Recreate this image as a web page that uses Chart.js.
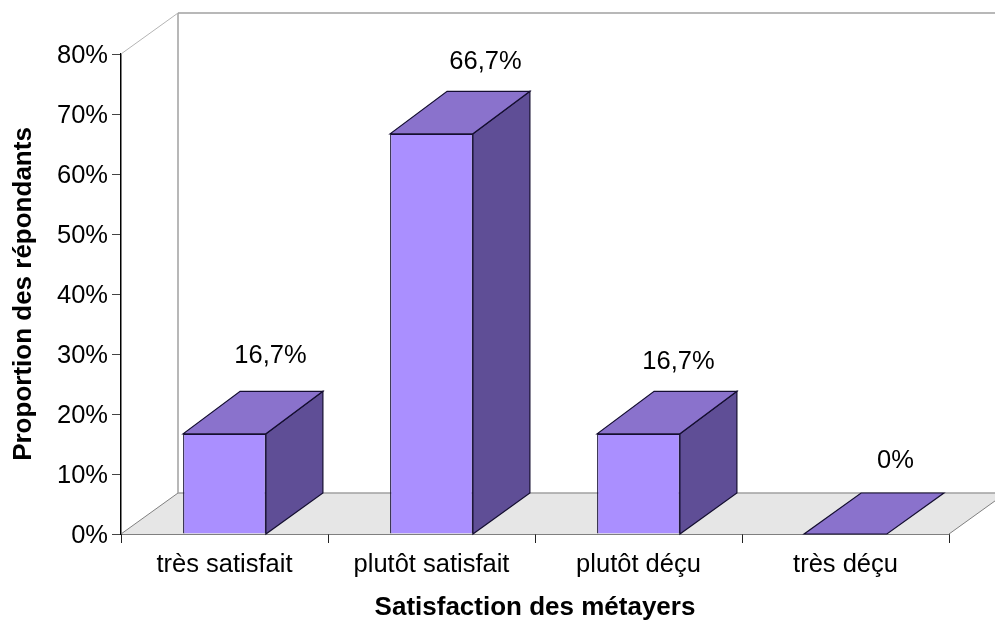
<!DOCTYPE html>
<html>
<head>
<meta charset="utf-8">
<script src="https://cdn.jsdelivr.net/npm/chart.js@4"></script>
<style>html,body{margin:0;padding:0;background:#fff}canvas{display:block}</style>
</head>
<body>
<canvas id="c" width="995" height="621"></canvas>
<script>
const categories = ['très satisfait', 'plutôt satisfait', 'plutôt déçu', 'très déçu'];
const values = [16.7, 66.7, 16.7, 0];
const valueLabels = ['16,7%', '66,7%', '16,7%', '0%'];
const labelShiftX = [46, 54, 40, 50];
const labelShiftY = [78, 72, 72, 73];
const DX = 57, DY = 41, DY_BAR_TOP = 42.5;
const FONT = '"Liberation Sans", Arial, sans-serif';
const INK = '#140e30';

function poly(ctx, pts, fill, stroke, w) {
  ctx.beginPath();
  pts.forEach((p, i) => i ? ctx.lineTo(p[0], p[1]) : ctx.moveTo(p[0], p[1]));
  ctx.closePath();
  if (fill) { ctx.fillStyle = fill; ctx.fill(); }
  if (stroke) { ctx.strokeStyle = stroke; ctx.lineWidth = w || 1; ctx.stroke(); }
}
function line(ctx, x1, y1, x2, y2, col, w) {
  ctx.beginPath(); ctx.moveTo(x1, y1); ctx.lineTo(x2, y2);
  ctx.strokeStyle = col; ctx.lineWidth = w || 1; ctx.stroke();
}

const box3d = {
  id: 'box3d',
  beforeDraw(chart) {
    // nudge the value-axis tick labels down onto their tick marks
    chart.scales.y.getLabelItems().forEach(item => {
      if (!item.options.nudged) { item.options.translation[1] += 1.5; item.options.nudged = true; }
    });
  },
  beforeDatasetsDraw(chart) {
    const ctx = chart.ctx, a = chart.chartArea;
    const y = chart.scales.y;
    const y0 = y.getPixelForValue(0), yTop = y.getPixelForValue(80);
    ctx.save();
    poly(ctx, [[a.left, y0], [a.right, y0], [a.right + DX, y0 - DY], [a.left + DX, y0 - DY]], '#e6e6e6');
    line(ctx, a.left, y0, a.left + DX, y0 - DY, '#808080', 1);
    line(ctx, a.right, y0, a.right + DX, y0 - DY, '#808080', 1);
    line(ctx, a.left + DX, y0 - DY, a.right + DX, y0 - DY, '#a0a0a0', 1.5);
    line(ctx, a.left + DX, yTop - DY, a.left + DX, y0 - DY, '#a0a0a0', 1.5);
    line(ctx, a.left + DX, yTop - DY, a.right + DX, yTop - DY, '#a0a0a0', 1.5);
    line(ctx, a.left, yTop, a.left + DX, yTop - DY, '#b4b4b4', 1);
    chart.getDatasetMeta(0).data.forEach((bar) => {
      const half = bar.width / 2, l = bar.x - half, r = bar.x + half, t = bar.y, b = y0;
      const dyT = b - t > 0.5 ? DY_BAR_TOP : DY;
      if (b - t > 0.5) {
        poly(ctx, [[r, t], [r + DX, t - dyT], [r + DX, b - DY], [r, b]], '#5f4e96', INK, 1.2);
      }
      poly(ctx, [[l, t], [r, t], [r + DX, t - dyT], [l + DX, t - dyT]], '#8a72cc', INK, 1.2);
    });
    ctx.restore();
  },
  afterDraw(chart) {
    const ctx = chart.ctx;
    ctx.save();
    ctx.font = '25.5px ' + FONT;
    ctx.fillStyle = '#000';
    ctx.textAlign = 'center';
    ctx.textBaseline = 'middle';
    chart.getDatasetMeta(0).data.forEach((bar, i) => {
      ctx.fillText(valueLabels[i], bar.x + labelShiftX[i], bar.y - labelShiftY[i]);
    });
    ctx.restore();
  }
};

new Chart(document.getElementById('c'), {
  type: 'bar',
  data: {
    labels: categories,
    datasets: [{
      data: values,
      backgroundColor: '#aa8fff',
      borderColor: INK,
      borderWidth: 1.2,
      categoryPercentage: 0.4,
      barPercentage: 1
    }]
  },
  plugins: [box3d],
  options: {
    responsive: false,
    animation: false,
    devicePixelRatio: 1,
    layout: { padding: { top: 54, right: 46, left: 0, bottom: 0 } },
    plugins: { legend: { display: false }, tooltip: { enabled: false }, title: { display: false } },
    scales: {
      x: {
        grid: { drawOnChartArea: false, drawTicks: true, tickLength: 9, color: '#222', offset: true },
        border: { color: '#000', width: 1.5 },
        ticks: { color: '#000', font: { family: FONT, size: 25.5 }, padding: 7, maxRotation: 0, autoSkip: false },
        title: { display: true, text: 'Satisfaction des métayers', color: '#000', font: { family: FONT, size: 26, weight: 'bold', lineHeight: 1.05 }, padding: { top: 10, bottom: 0 } },
        afterFit(s) { s.height = 87; }
      },
      y: {
        min: 0, max: 80,
        grid: { drawOnChartArea: false, tickLength: 9, color: '#444' },
        border: { color: '#000', width: 1.5 },
        ticks: { stepSize: 10, color: '#000', font: { family: FONT, size: 25.5 }, padding: 4, callback: v => v + '%' },
        title: { display: true, text: 'Proportion des répondants', color: '#000', font: { family: FONT, size: 26, weight: 'bold' }, padding: { top: 8, bottom: 0 } },
        afterFit(s) { s.width = 121; }
      }
    }
  }
});
</script>
</body>
</html>
